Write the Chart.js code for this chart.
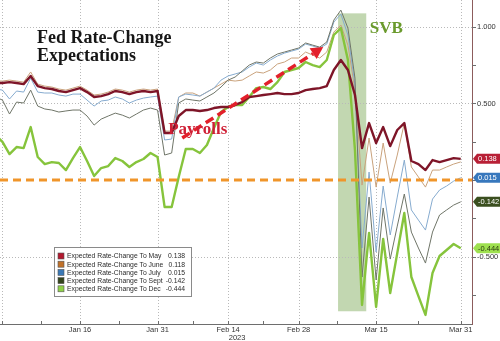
<!DOCTYPE html>
<html>
<head>
<meta charset="utf-8">
<script src="https://cdn.jsdelivr.net/npm/chart.js@4"></script>
<style>
  html, body { margin: 0; padding: 0; background: #fff; }
  #wrap { position: relative; width: 500px; height: 341px; }
</style>
</head>
<body>
<div id="wrap"><canvas id="c" width="500" height="341"></canvas></div>
<script>
// Trading days (weekdays) on the x axis
const dates = [
  '2022-12-29','2022-12-30',
  '2023-01-02','2023-01-03','2023-01-04','2023-01-05','2023-01-06',
  '2023-01-09','2023-01-10','2023-01-11','2023-01-12','2023-01-13',
  '2023-01-16','2023-01-17','2023-01-18','2023-01-19','2023-01-20',
  '2023-01-23','2023-01-24','2023-01-25','2023-01-26','2023-01-27',
  '2023-01-30','2023-01-31','2023-02-01','2023-02-02','2023-02-03',
  '2023-02-06','2023-02-07','2023-02-08','2023-02-09','2023-02-10',
  '2023-02-13','2023-02-14','2023-02-15','2023-02-16','2023-02-17',
  '2023-02-20','2023-02-21','2023-02-22','2023-02-23','2023-02-24',
  '2023-02-27','2023-02-28','2023-03-01','2023-03-02','2023-03-03',
  '2023-03-06','2023-03-07','2023-03-08','2023-03-09','2023-03-10',
  '2023-03-13','2023-03-14','2023-03-15','2023-03-16','2023-03-17',
  '2023-03-20','2023-03-21','2023-03-22','2023-03-23','2023-03-24',
  '2023-03-27','2023-03-28','2023-03-29','2023-03-30','2023-03-31'
];

// Expected cumulative rate change (percentage points) priced by each meeting
const toMay = [0.632, 0.632,
  0.638, 0.632, 0.625, 0.678, 0.612,
  0.599, 0.593, 0.580, 0.573, 0.586,
  0.599, 0.573, 0.541, 0.547, 0.560,
  0.580, 0.573, 0.560, 0.573, 0.580,
  0.573, 0.580, 0.306, 0.306, 0.417,
  0.456, 0.456, 0.450, 0.456, 0.469,
  0.476, 0.476, 0.489, 0.508, 0.541,
  0.547, 0.554, 0.560, 0.567, 0.560,
  0.560, 0.567, 0.586, 0.593, 0.599,
  0.612, 0.717, 0.782, 0.717, 0.554,
  0.208, 0.371, 0.241, 0.345, 0.221,
  0.326, 0.371, 0.124, 0.104, 0.065,
  0.130, 0.117, 0.130, 0.143, 0.138];

const toJune = [0.645, 0.645,
  0.651, 0.645, 0.638, 0.704, 0.625,
  0.612, 0.606, 0.593, 0.586, 0.599,
  0.612, 0.586, 0.554, 0.560, 0.573,
  0.593, 0.586, 0.573, 0.586, 0.593,
  0.586, 0.593, 0.319, 0.319, 0.541,
  0.567, 0.567, 0.547, 0.573, 0.599,
  0.625, 0.651, 0.645, 0.651, 0.678,
  0.704, 0.697, 0.717, 0.756, 0.769,
  0.795, 0.795, 0.834, 0.814, 0.795,
  0.834, 0.964, 1.010, 0.879, 0.586,
  -0.033, 0.274, -0.046, 0.241, -0.020,
  0.163, 0.371, 0.085, 0.020, -0.046,
  0.065, 0.065, 0.085, 0.104, 0.118];

const toJuly = [0.593, 0.586,
  0.528, 0.580, 0.573, 0.664, 0.573,
  0.567, 0.567, 0.554, 0.547, 0.560,
  0.560, 0.521, 0.482, 0.515, 0.521,
  0.541, 0.528, 0.502, 0.521, 0.534,
  0.541, 0.547, 0.261, 0.267, 0.541,
  0.560, 0.554, 0.547, 0.573, 0.599,
  0.651, 0.678, 0.691, 0.704, 0.736,
  0.762, 0.749, 0.782, 0.808, 0.827,
  0.840, 0.853, 0.886, 0.873, 0.860,
  0.886, 1.029, 1.081, 0.945, 0.619,
  -0.443, 0.052, -0.469, -0.039, -0.358,
  -0.111, 0.130, -0.195, -0.261, -0.326,
  -0.124, -0.065, -0.039, -0.007, 0.015];

const toSept = [0.541, 0.521,
  0.430, 0.508, 0.502, 0.586, 0.482,
  0.463, 0.456, 0.443, 0.450, 0.456,
  0.456, 0.417, 0.358, 0.397, 0.417,
  0.436, 0.423, 0.404, 0.430, 0.456,
  0.469, 0.456, 0.163, 0.176, 0.502,
  0.528, 0.521, 0.515, 0.541, 0.567,
  0.606, 0.651, 0.671, 0.710, 0.749,
  0.769, 0.762, 0.795, 0.821, 0.834,
  0.847, 0.860, 0.893, 0.879, 0.866,
  0.899, 1.042, 1.107, 0.990, 0.664,
  -0.632, -0.111, -0.651, -0.182, -0.515,
  -0.300, -0.091, -0.339, -0.443, -0.541,
  -0.339, -0.228, -0.195, -0.163, -0.142];

const toDec = [0.293, 0.248,
  0.169, 0.215, 0.208, 0.345, 0.150,
  0.104, 0.117, 0.111, 0.065, 0.143,
  0.215, 0.124, 0.026, 0.078, 0.091,
  0.143, 0.124, 0.085, 0.117, 0.137,
  0.176, 0.150, -0.176, -0.176, 0.020,
  0.202, 0.202, 0.176, 0.228, 0.339,
  0.443, 0.476, 0.489, 0.489, 0.541,
  0.599, 0.606, 0.593, 0.638, 0.704,
  0.717, 0.730, 0.769, 0.749, 0.736,
  0.782, 0.945, 0.990, 0.782, 0.195,
  -0.814, -0.345, -0.827, -0.384, -0.736,
  -0.476, -0.215, -0.632, -0.756, -0.879,
  -0.606, -0.495, -0.456, -0.417, -0.444];

const seriesNames = ['Expected Rate-Change To May', 'Expected Rate-Change To June',
  'Expected Rate-Change To July', 'Expected Rate-Change To Sept', 'Expected Rate-Change To Dec'];

const tickDates  = ['2023-01-16','2023-01-31','2023-02-14','2023-02-28','2023-03-15','2023-03-31'];
const tickLabels = ['Jan 16','Jan 31','Feb 14','Feb 28','Mar 15','Mar 31'];
const yearLabel = '2023';
const yLabelTicks = [1, 0.5, -0.5];
const yMinorTicks = [0.75, 0.25, 0, -0.25, -0.75];

// Event window and annotation anchors (x = trading-day index, y = value)
const svbWindow = { x0: 48.6, x1: 52.6, y0: -0.855, y1: 1.086 };
const payrollArrow = { x0: 26.5, y0: 0.274, x1: 46.5, y1: 0.866 };

const series = [
  { name: seriesNames[0], values: toMay,  line: '#7e1528', swatch: '#b3192f', width: 2.4, order: 1, tag: { bg: '#b82036', fg: '#ffffff' } },
  { name: seriesNames[1], values: toJune, line: '#c9a27c', swatch: '#c0712a', width: 1,   order: 5, tag: null },
  { name: seriesNames[2], values: toJuly, line: '#86abcf', swatch: '#3a78b6', width: 1,   order: 4, tag: { bg: '#3878bd', fg: '#ffffff' } },
  { name: seriesNames[3], values: toSept, line: '#6f7568', swatch: '#34451c', width: 1,   order: 3, tag: { bg: '#3b4f1f', fg: '#ffffff' } },
  { name: seriesNames[4], values: toDec,  line: '#86c43c', swatch: '#8fd248', width: 2.4, order: 2, tag: { bg: '#9ee04f', fg: '#2a3a10' } }
];

const SANS = '"Liberation Sans", Arial, sans-serif';
const SERIF = '"Liberation Serif", "Times New Roman", serif';

const decor = {
  id: 'decor',
  beforeDatasetsDraw(chart) {
    const { ctx, chartArea: a, scales: { x, y } } = chart;
    ctx.save();
    // event shading
    ctx.fillStyle = 'rgba(128,172,92,0.48)';
    const sx0 = x.getPixelForValue(svbWindow.x0), sx1 = x.getPixelForValue(svbWindow.x1);
    const sy0 = y.getPixelForValue(svbWindow.y1), sy1 = y.getPixelForValue(svbWindow.y0);
    ctx.fillRect(sx0, sy0, sx1 - sx0, sy1 - sy0);

    // dotted grid
    ctx.strokeStyle = '#b9b9b9';
    ctx.lineWidth = 1;
    ctx.setLineDash([1, 2]);
    yLabelTicks.forEach(v => {
      const py = Math.round(y.getPixelForValue(v)) + 0.5;
      ctx.beginPath(); ctx.moveTo(a.left, py); ctx.lineTo(a.right, py); ctx.stroke();
    });
    const gx = [1].concat(tickDates.map(d => dates.indexOf(d)));
    gx.forEach(v => {
      const px = Math.round(x.getPixelForValue(v)) + 0.5;
      ctx.beginPath(); ctx.moveTo(px, a.top); ctx.lineTo(px, a.bottom); ctx.stroke();
    });
    ctx.restore();
  },
  afterDatasetsDraw(chart) {
    const { ctx, chartArea: a, scales: { x, y } } = chart;
    ctx.save();
    // zero line
    ctx.strokeStyle = '#f0952a';
    ctx.lineWidth = 3;
    ctx.setLineDash([8, 5]);
    const zy = y.getPixelForValue(0);
    ctx.beginPath(); ctx.moveTo(a.left, zy); ctx.lineTo(a.right, zy); ctx.stroke();
    ctx.setLineDash([]);

    // payrolls arrow
    const ax0 = x.getPixelForValue(payrollArrow.x0), ay0 = y.getPixelForValue(payrollArrow.y0);
    const ax1 = x.getPixelForValue(payrollArrow.x1), ay1 = y.getPixelForValue(payrollArrow.y1);
    const ang = Math.atan2(ay1 - ay0, ax1 - ax0);
    const headLen = 12, headW = 6.5;
    const bx = ax1 - headLen * Math.cos(ang), by = ay1 - headLen * Math.sin(ang);
    ctx.strokeStyle = '#e3202b';
    ctx.fillStyle = '#e3202b';
    ctx.lineWidth = 3.5;
    ctx.setLineDash([9, 5]);
    ctx.beginPath(); ctx.moveTo(ax0, ay0); ctx.lineTo(bx, by); ctx.stroke();
    ctx.setLineDash([]);
    ctx.beginPath();
    ctx.moveTo(ax1, ay1);
    ctx.lineTo(bx + headW * Math.sin(ang), by - headW * Math.cos(ang));
    ctx.lineTo(bx - headW * Math.sin(ang), by + headW * Math.cos(ang));
    ctx.closePath(); ctx.fill();

    // annotation text
    ctx.textBaseline = 'alphabetic';
    ctx.textAlign = 'left';
    ctx.font = 'bold 17px ' + SERIF;
    ctx.fillStyle = '#cf1f35';
    ctx.fillText('Payrolls', x.getPixelForValue(24.5), y.getPixelForValue(0.297));
    ctx.fillStyle = '#6a9a2c';
    ctx.fillText('SVB', x.getPixelForValue(53.1), y.getPixelForValue(0.958));

    // title
    ctx.font = 'bold 18px ' + SERIF;
    ctx.fillStyle = '#161616';
    ctx.fillText('Fed Rate-Change', 37, 43);
    ctx.fillText('Expectations', 37, 61);

    // axis lines
    ctx.strokeStyle = '#6e6e6e';
    ctx.lineWidth = 1;
    ctx.beginPath(); ctx.moveTo(0, a.bottom + 0.5); ctx.lineTo(a.right + 1, a.bottom + 0.5); ctx.stroke();
    ctx.strokeStyle = '#8c5c5c';
    ctx.beginPath(); ctx.moveTo(a.right + 0.5, 0); ctx.lineTo(a.right + 0.5, a.bottom + 1); ctx.stroke();

    // x tick marks (major + midpoints) and labels
    ctx.strokeStyle = '#6e6e6e';
    const majors = [1].concat(tickDates.map(d => dates.indexOf(d)));
    const marks = majors.slice();
    for (let i = 0; i < majors.length - 1; i++) marks.push((majors[i] + majors[i + 1]) / 2);
    marks.forEach(v => {
      const px = Math.round(x.getPixelForValue(v)) + 0.5;
      ctx.beginPath(); ctx.moveTo(px, a.bottom); ctx.lineTo(px, a.bottom - 3); ctx.stroke();
    });
    ctx.font = '7.5px ' + SANS;
    ctx.fillStyle = '#333';
    ctx.textAlign = 'center';
    ctx.textBaseline = 'middle';
    tickDates.forEach((d, i) => {
      ctx.fillText(tickLabels[i], x.getPixelForValue(dates.indexOf(d)), a.bottom + 6);
    });
    ctx.fillText(yearLabel, x.getPixelForValue(dates.indexOf('2023-02-14')) + 9, a.bottom + 13.5);

    // y tick marks and labels
    yLabelTicks.concat(yMinorTicks).forEach(v => {
      const py = Math.round(y.getPixelForValue(v)) + 0.5;
      ctx.beginPath(); ctx.moveTo(a.right, py); ctx.lineTo(a.right + 4, py); ctx.stroke();
    });
    ctx.textAlign = 'left';
    yLabelTicks.forEach(v => {
      ctx.fillText(v.toFixed(3), a.right + 5, y.getPixelForValue(v) + 0.5);
    });

    // last-value tags on the axis
    series.forEach(s => {
      if (!s.tag) return;
      const v = s.values[s.values.length - 1];
      const py = y.getPixelForValue(v);
      const l = a.right + 1;
      ctx.fillStyle = s.tag.bg;
      ctx.beginPath();
      ctx.moveTo(l, py);
      ctx.lineTo(l + 4, py - 5);
      ctx.lineTo(500, py - 5);
      ctx.lineTo(500, py + 5);
      ctx.lineTo(l + 4, py + 5);
      ctx.closePath(); ctx.fill();
      ctx.fillStyle = s.tag.fg;
      ctx.fillText(v.toFixed(3), l + 5, py + 0.5);
    });

    // legend box
    const lx = 54, ly = 247, lw = 137, lh = 49;
    ctx.fillStyle = '#ffffff';
    ctx.fillRect(lx, ly, lw, lh);
    ctx.strokeStyle = '#8a8a8a';
    ctx.lineWidth = 1;
    ctx.strokeRect(lx + 0.5, ly + 0.5, lw, lh);
    ctx.font = '6.8px ' + SANS;
    series.forEach((s, i) => {
      const ry = 256 + i * 8.2;
      ctx.fillStyle = s.swatch;
      ctx.fillRect(58, ry - 3, 6, 6);
      ctx.strokeStyle = '#555';
      ctx.lineWidth = 0.6;
      ctx.strokeRect(58, ry - 3, 6, 6);
      ctx.fillStyle = '#2b2b2b';
      ctx.textAlign = 'left';
      ctx.fillText(s.name, 67, ry + 0.5);
      const v = s.values[s.values.length - 1];
      ctx.textAlign = 'right';
      ctx.fillText(v.toFixed(3), 185, ry + 0.5);
    });
    ctx.restore();
  }
};

const ctx = document.getElementById('c').getContext('2d');
new Chart(ctx, {
  type: 'line',
  data: {
    datasets: series.map(s => ({
      label: s.name,
      data: s.values.map((v, i) => ({ x: i, y: v })),
      borderColor: s.line,
      backgroundColor: s.line,
      borderWidth: s.width,
      pointRadius: 0,
      tension: 0,
      order: s.order,
      borderJoinStyle: 'round'
    }))
  },
  options: {
    responsive: false,
    animation: false,
    devicePixelRatio: 1,
    layout: { padding: { left: 0, top: 0, right: 28, bottom: 17 } },
    plugins: { legend: { display: false }, tooltip: { enabled: false } },
    scales: {
      x: { type: 'linear', display: false, min: 0.65, max: 67.6 },
      y: { type: 'linear', display: false, min: -0.938, max: 1.173 }
    }
  },
  plugins: [decor]
});
</script>
</body>
</html>
